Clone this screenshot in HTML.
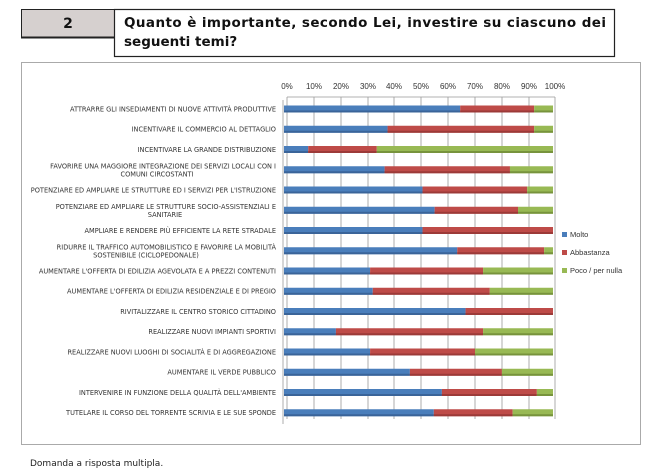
<!DOCTYPE html>
<html><head><meta charset="utf-8"><style>
body{margin:0;background:#fff;width:660px;height:471px;overflow:hidden;font-family:"DejaVu Sans","Liberation Sans",sans-serif;}
</style></head><body>
<svg width="660" height="471" xmlns="http://www.w3.org/2000/svg" style="position:absolute;left:0;top:0">
<rect x="21.5" y="9.5" width="93" height="28" fill="#d6d0cf" stroke="#222" stroke-width="1"/>
<line x1="21" y1="37.5" x2="114" y2="37.5" stroke="#222" stroke-width="2"/>
<rect x="114.5" y="9.5" width="500" height="47" fill="#fff" stroke="#222" stroke-width="1.2"/>
<text x="68" y="28" font-size="14" font-weight="bold" text-anchor="middle" fill="#111">2</text>
<text x="124" y="27" font-size="13.5" font-weight="bold" fill="#111" textLength="482" lengthAdjust="spacing">Quanto è importante, secondo Lei, investire su ciascuno dei</text>
<text x="124" y="46" font-size="13.5" font-weight="bold" fill="#111">seguenti temi?</text>
<rect x="21.5" y="62.5" width="619" height="382" fill="#fff" stroke="#aaa" stroke-width="1"/>
<g font-size="8" fill="#333" text-anchor="middle" font-family="Liberation Sans,sans-serif">
<text x="287" y="89">0%</text><text x="314" y="89">10%</text><text x="341" y="89">20%</text><text x="368" y="89">30%</text><text x="394" y="89">40%</text><text x="421" y="89">50%</text><text x="448" y="89">60%</text><text x="475" y="89">70%</text><text x="502" y="89">80%</text><text x="529" y="89">90%</text><text x="555" y="89">100%</text>
</g>
<g stroke="#999" stroke-width="0.8" id="grid">
<line x1="287" y1="97" x2="287" y2="419"/><line x1="314" y1="97" x2="314" y2="419"/><line x1="341" y1="97" x2="341" y2="419"/><line x1="368" y1="97" x2="368" y2="419"/><line x1="394" y1="97" x2="394" y2="419"/><line x1="421" y1="97" x2="421" y2="419"/><line x1="448" y1="97" x2="448" y2="419"/><line x1="475" y1="97" x2="475" y2="419"/><line x1="502" y1="97" x2="502" y2="419"/><line x1="529" y1="97" x2="529" y2="419"/><line x1="555" y1="97" x2="555" y2="419"/>
<line x1="287" y1="97" x2="555" y2="97"/>
<line x1="283" y1="100" x2="283" y2="424"/>
</g>
<g id="bars"></g>
<g font-size="6.6" fill="#333" text-anchor="end" font-family="DejaVu Sans,sans-serif" id="labels"></g>
<rect x="562" y="232" width="5" height="5" fill="#4a7ebb"/><text x="570" y="237" font-size="7.5" fill="#333" font-family="Liberation Sans,sans-serif">Molto</text>
<rect x="562" y="250" width="5" height="5" fill="#be4b48"/><text x="570" y="255" font-size="7.5" fill="#333" font-family="Liberation Sans,sans-serif">Abbastanza</text>
<rect x="562" y="268" width="5" height="5" fill="#98b954"/><text x="570" y="273" font-size="7.5" fill="#333" font-family="Liberation Sans,sans-serif">Poco / per nulla</text>
<text x="30" y="466" font-size="9" fill="#222">Domanda a risposta multipla.</text>
</svg>
<script>
var d=[[65.5,93],[38.5,93],[9,34.5],[37.4,84],[51.5,90.4],[56,87],[51.5,100],[64.4,96.7],[32,74],[33,76.5],[67.5,100],[19.3,74],[32,71],[46.8,81],[58.7,94],[55.7,85]];
var L=[["ATTRARRE GLI INSEDIAMENTI DI NUOVE ATTIVITÀ PRODUTTIVE"],["INCENTIVARE IL COMMERCIO AL DETTAGLIO"],["INCENTIVARE LA GRANDE DISTRIBUZIONE"],["FAVORIRE UNA MAGGIORE INTEGRAZIONE DEI SERVIZI LOCALI CON I","COMUNI CIRCOSTANTI",157],["POTENZIARE ED AMPLIARE LE STRUTTURE ED I SERVIZI PER L'ISTRUZIONE"],["POTENZIARE ED AMPLIARE LE STRUTTURE SOCIO-ASSISTENZIALI E","SANITARIE",165],["AMPLIARE E RENDERE PIÙ EFFICIENTE LA RETE STRADALE"],["RIDURRE IL TRAFFICO AUTOMOBILISTICO E FAVORIRE LA MOBILITÀ","SOSTENIBILE (CICLOPEDONALE)",146],["AUMENTARE L'OFFERTA DI EDILIZIA AGEVOLATA E A PREZZI CONTENUTI"],["AUMENTARE L'OFFERTA DI EDILIZIA RESIDENZIALE E DI PREGIO"],["RIVITALIZZARE IL CENTRO STORICO CITTADINO"],["REALIZZARE NUOVI IMPIANTI SPORTIVI"],["REALIZZARE NUOVI LUOGHI DI SOCIALITÀ E DI AGGREGAZIONE"],["AUMENTARE IL VERDE PUBBLICO"],["INTERVENIRE IN FUNZIONE DELLA QUALITÀ DELL'AMBIENTE"],["TUTELARE IL CORSO DEL TORRENTE SCRIVIA E LE SUE SPONDE"]];
var ns="http://www.w3.org/2000/svg",b=document.getElementById('bars'),lb=document.getElementById('labels');
function r(x,y,w,h,c){var e=document.createElementNS(ns,'rect');e.setAttribute('x',x);e.setAttribute('y',y);e.setAttribute('width',w);e.setAttribute('height',h);e.setAttribute('fill',c);b.appendChild(e);}
function tx(x,y,s,mid){var t=document.createElementNS(ns,'text');t.setAttribute('x',x);t.setAttribute('y',y);if(mid)t.setAttribute('text-anchor','middle');t.textContent=s;lb.appendChild(t);}
var x0=284,s=2.69;
d.forEach(function(v,i){var cy=109+i*20.25,y=cy-3.5;
var a=x0+v[0]*s,m=x0+v[1]*s,e=x0+100*s;
r(x0,y,a-x0,7,'#4a7ebb');r(x0,y+5,a-x0,2,'#3a6499');
if(m>a){r(a,y,m-a,7,'#be4b48');r(a,y+5,m-a,2,'#9c3a38');}
if(e>m){r(m,y,e-m,7,'#98b954');r(m,y+5,e-m,2,'#77933c');}
var t=L[i];
if(t.length>1){tx(276,cy-1.5,t[0]);tx(t[2],cy+6.5,t[1],true);}else tx(276,cy+2.3,t[0]);
});
</script>
</body></html>
